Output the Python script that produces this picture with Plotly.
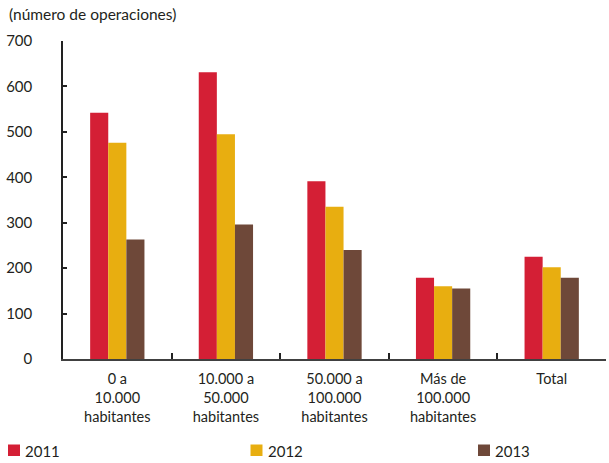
import plotly.graph_objects as go

# Operaciones por tamaño de municipio
categorias = [
    "0 a<br>10.000<br>habitantes",
    "10.000 a<br>50.000<br>habitantes",
    "50.000 a<br>100.000<br>habitantes",
    "Más de<br>100.000<br>habitantes",
    "Total",
]
anios = ["2011", "2012", "2013"]
valores_2011 = [542, 631, 391, 179, 225]
valores_2012 = [476, 495, 335, 160, 202]
valores_2013 = [263, 296, 240, 155, 179]
colores = ["#D41F35", "#E8AE10", "#6E4839"]
y_ticks = [0, 100, 200, 300, 400, 500, 600, 700]

FUENTE = "Lato"
TEXTO = "#231F20"

W, H = 609, 463
M_L, M_R, M_T, M_B = 63, 3, 41, 104
PW, PH = W - M_L - M_R, H - M_T - M_B


def px_x(px):
    return (px - M_L) / PW


def px_y(py):
    return (H - M_B - py) / PH


fig = go.Figure()
series = [valores_2011, valores_2012, valores_2013]
for anio, vals, color in zip(anios, series, colores):
    fig.add_trace(go.Bar(
        x=categorias, y=vals, name=anio,
        marker=dict(color=color, line=dict(width=0)),
        showlegend=False,
    ))

# Leyenda en la franja inferior: cuadro de color + año
leyenda_x = [8, 250.5, 478]
shapes, annotations = [], []
for anio, color, x0 in zip(anios, colores, leyenda_x):
    shapes.append(dict(
        type="rect", xref="paper", yref="paper",
        x0=px_x(x0), x1=px_x(x0 + 12), y0=px_y(456), y1=px_y(444.5),
        fillcolor=color, line=dict(width=0), layer="above",
    ))
    annotations.append(dict(
        text=anio, xref="paper", yref="paper",
        x=px_x(x0 + 15), y=px_y(450.5), xanchor="left", yanchor="middle",
        showarrow=False, font=dict(family=FUENTE, size=15, color=TEXTO),
    ))

annotations.append(dict(
    text="(número de operaciones)", xref="paper", yref="paper",
    x=px_x(7), y=px_y(14), xanchor="left", yanchor="middle",
    showarrow=False, font=dict(family=FUENTE, size=15.5, color=TEXTO),
))

fig.update_layout(
    width=W, height=H,
    margin=dict(l=M_L, r=M_R, t=M_T, b=M_B),
    paper_bgcolor="white", plot_bgcolor="white",
    barmode="group", bargap=0.5, bargroupgap=0,
    font=dict(family=FUENTE, size=14, color=TEXTO),
    showlegend=False,
    xaxis=dict(
        showline=True, linecolor="#404040", linewidth=1.5,
        ticks="inside", tickson="boundaries", ticklen=6,
        tickcolor="#222", tickwidth=1.5,
        showgrid=False, zeroline=False,
        tickfont=dict(family=FUENTE, size=14.5, color=TEXTO),
        ticklabelstandoff=6,
        fixedrange=True,
    ),
    yaxis=dict(
        range=[0, 700], tickvals=y_ticks,
        showline=True, linecolor="#222", linewidth=1.5,
        ticks="inside", ticklen=4, tickcolor="#222", tickwidth=1.5,
        showgrid=False, zeroline=False,
        tickfont=dict(family=FUENTE, size=15, color=TEXTO),
        ticklabelstandoff=26,
        fixedrange=True,
    ),
    shapes=shapes,
    annotations=annotations,
)

fig.write_html("out.html")
